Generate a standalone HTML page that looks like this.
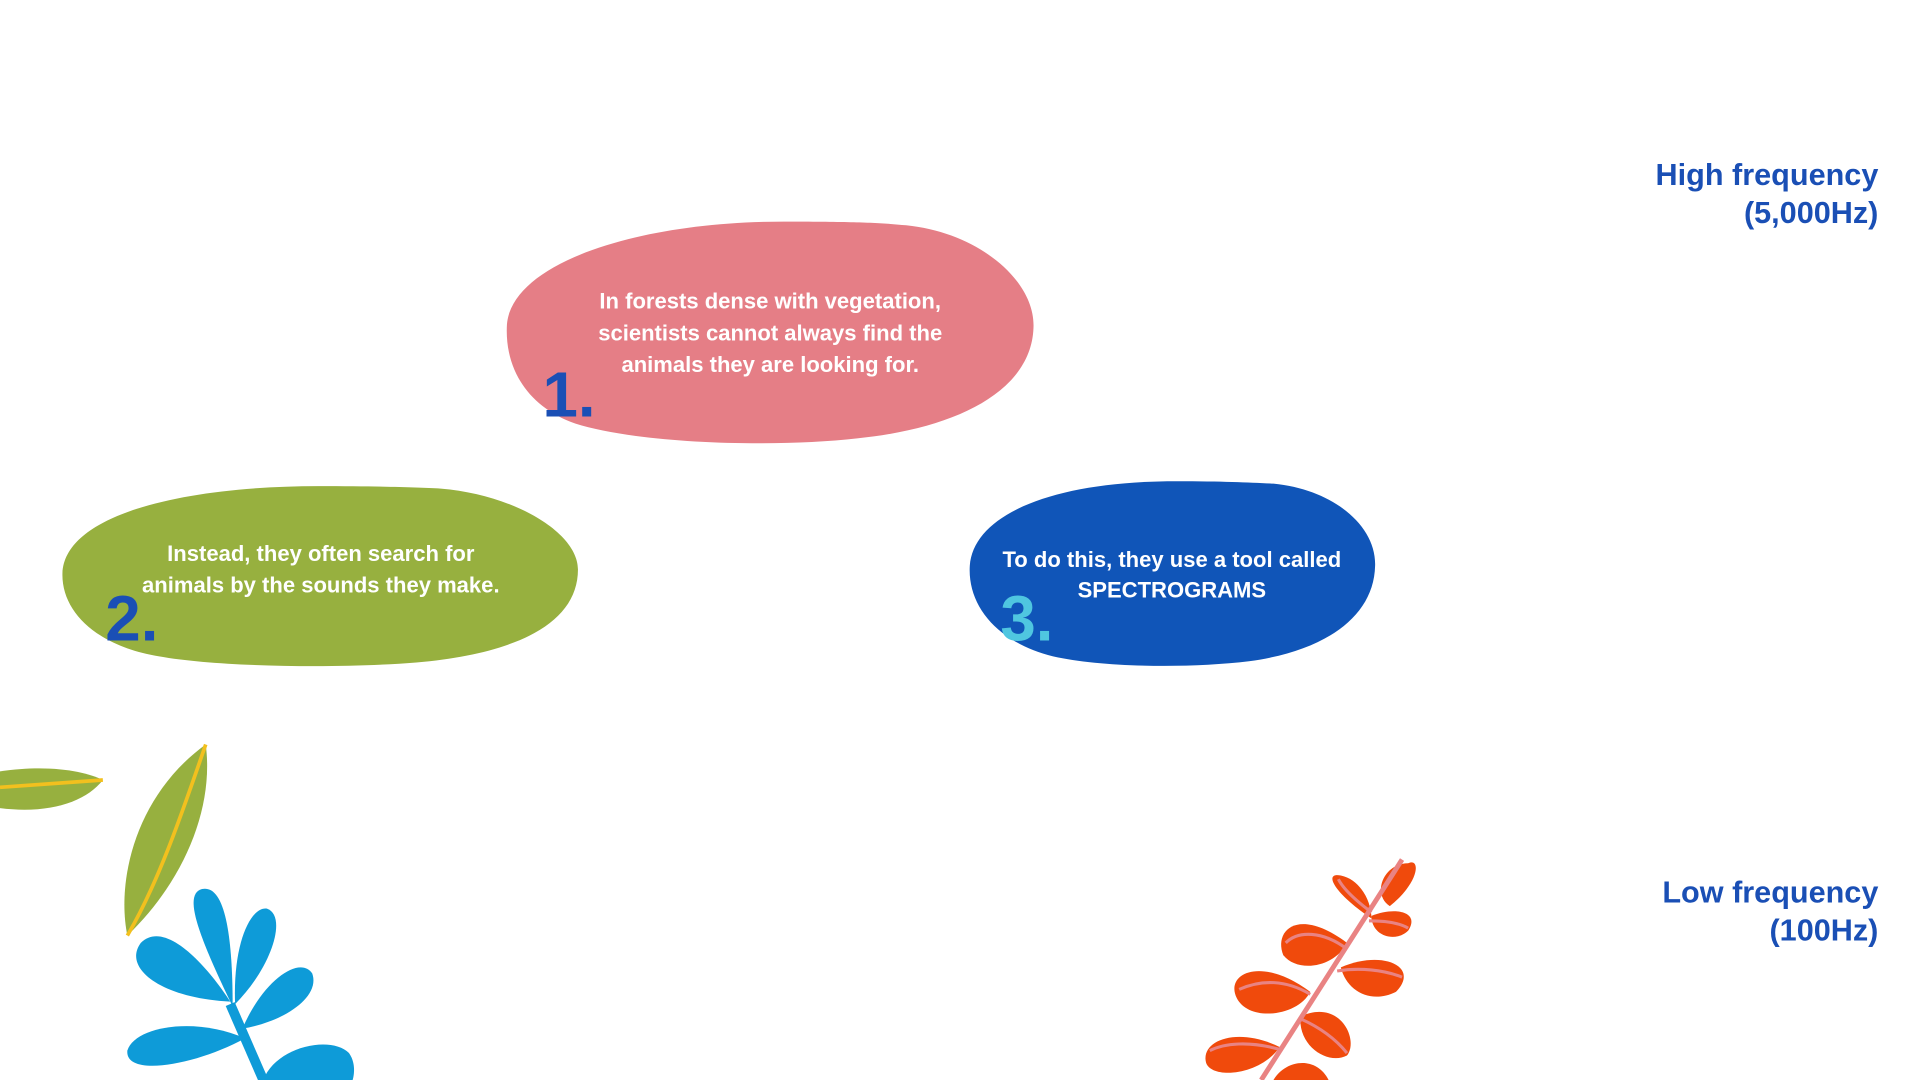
<!DOCTYPE html>
<html><head><meta charset="utf-8"><style>
html,body{margin:0;padding:0;background:#fff;overflow:hidden}
svg{display:block}
text{font-family:"Liberation Sans",sans-serif;font-weight:bold}
</style></head><body>
<svg width="1920" height="1080" viewBox="0 0 1568 882" xmlns="http://www.w3.org/2000/svg">
<rect width="1568" height="882" fill="#fff"/>
<path d="M640 181 C700 181 720 182 740 184 C800 190 846 230 844 268 C842 320 780 350 700 358 C630 366 520 362 470 346 C430 332 412 300 414 265 C418 215 520 181 640 181 Z" fill="#e57e86"/>
<path d="M260 397 C310 397 340 398 360 399 C420 404 472 435 472 465 C472 510 420 534 340 541 C280 546 180 545 130 536 C80 528 50 500 51 468 C53 420 150 397 260 397 Z" fill="#97b03f"/>
<path d="M960 393 C1000 393 1020 394 1040 395 C1090 400 1124 430 1123 462 C1122 505 1080 532 1020 540 C970 546 900 545 860 536 C815 525 790 495 792 462 C795 420 860 393 960 393 Z" fill="#1055b8"/>
<g fill="#fff" font-size="18" text-anchor="middle">
<text x="629" y="252">In forests dense with vegetation,</text>
<text x="629" y="278">scientists cannot always find the</text>
<text x="629" y="304">animals they are looking for.</text>
<text x="262" y="458">Instead, they often search for</text>
<text x="262" y="484">animals by the sounds they make.</text>
<text x="957" y="463">To do this, they use a tool called</text>
<text x="957" y="488">SPECTROGRAMS</text>
</g>
<text x="443" y="340" font-size="52" fill="#1a4fb5">1.</text>
<text x="86" y="523" font-size="52" fill="#1a4fb5">2.</text>
<text x="817" y="523" font-size="52" fill="#4fc6e0">3.</text>
<g fill="#1a4fb5" font-size="25" text-anchor="end">
<text x="1534" y="151">High frequency</text>
<text x="1534" y="182">(5,000Hz)</text>
<text x="1534" y="737">Low frequency</text>
<text x="1534" y="768">(100Hz)</text>
</g>
<path d="M0 630 C40 624 70 630 84 637 C70 655 40 665 0 660 Z" fill="#97b03f"/>
<path d="M0 643 L84 637" stroke="#f2c01e" stroke-width="3"/>
<path d="M168 608 C175 660 150 720 104 764 C95 720 110 650 168 608 Z" fill="#97b03f"/>
<path d="M168 608 C150 660 130 720 104 764" stroke="#f2c01e" stroke-width="3" fill="none"/>
<g fill="#0e9bd8">
<path d="M188 820 L215 882" stroke="#0e9bd8" stroke-width="8"/>
<path d="M190 822 C160 760 150 730 165 726 C185 722 190 770 190 822 Z"/>
<path d="M188 818 C130 815 100 790 115 770 C135 750 170 790 188 818 Z"/>
<path d="M192 820 C190 770 205 740 218 742 C235 748 222 790 192 820 Z"/>
<path d="M198 840 C215 800 245 780 255 795 C262 815 230 835 198 840 Z"/>
<path d="M200 848 C160 830 110 838 104 858 C102 880 160 870 200 848 Z"/>
<path d="M215 882 C225 855 270 845 285 860 C292 870 288 882 288 882 Z"/>
</g>
<g fill="#f04a0c">
<path d="M1150 705 C1160 700 1160 720 1135 740 C1120 730 1130 705 1150 705 Z"/>
<path d="M1120 750 C1090 730 1080 712 1095 715 C1110 718 1120 735 1120 750 Z"/>
<path d="M1120 748 C1140 740 1160 745 1150 760 C1140 770 1120 765 1120 748 Z"/>
<path d="M1100 770 C1060 740 1040 760 1048 780 C1060 795 1090 790 1100 770 Z"/>
<path d="M1095 790 C1130 775 1160 790 1140 810 C1120 820 1100 810 1095 790 Z"/>
<path d="M1070 810 C1030 780 1000 795 1010 815 C1020 835 1060 830 1070 810 Z"/>
<path d="M1062 830 C1095 815 1110 850 1100 862 C1085 870 1060 855 1062 830 Z"/>
<path d="M1045 855 C1010 838 980 850 985 868 C990 882 1030 878 1045 855 Z"/>
<path d="M1040 882 C1050 865 1075 862 1085 882 Z"/>
</g>
<path d="M1145 702 L1030 882" stroke="#e98383" stroke-width="4" fill="none"/>
<g stroke="#e98383" stroke-width="2.5" fill="none">
<path d="M1120 745 C1100 730 1095 722 1093 718"/>
<path d="M1118 752 C1135 752 1145 755 1150 758"/>
<path d="M1100 775 C1080 760 1060 760 1050 770"/>
<path d="M1092 793 C1110 790 1130 792 1145 798"/>
<path d="M1070 812 C1050 800 1030 800 1012 808"/>
<path d="M1062 832 C1080 840 1092 850 1100 860"/>
<path d="M1045 857 C1020 850 1000 852 988 858"/>
</g>
</svg>
</body></html>
